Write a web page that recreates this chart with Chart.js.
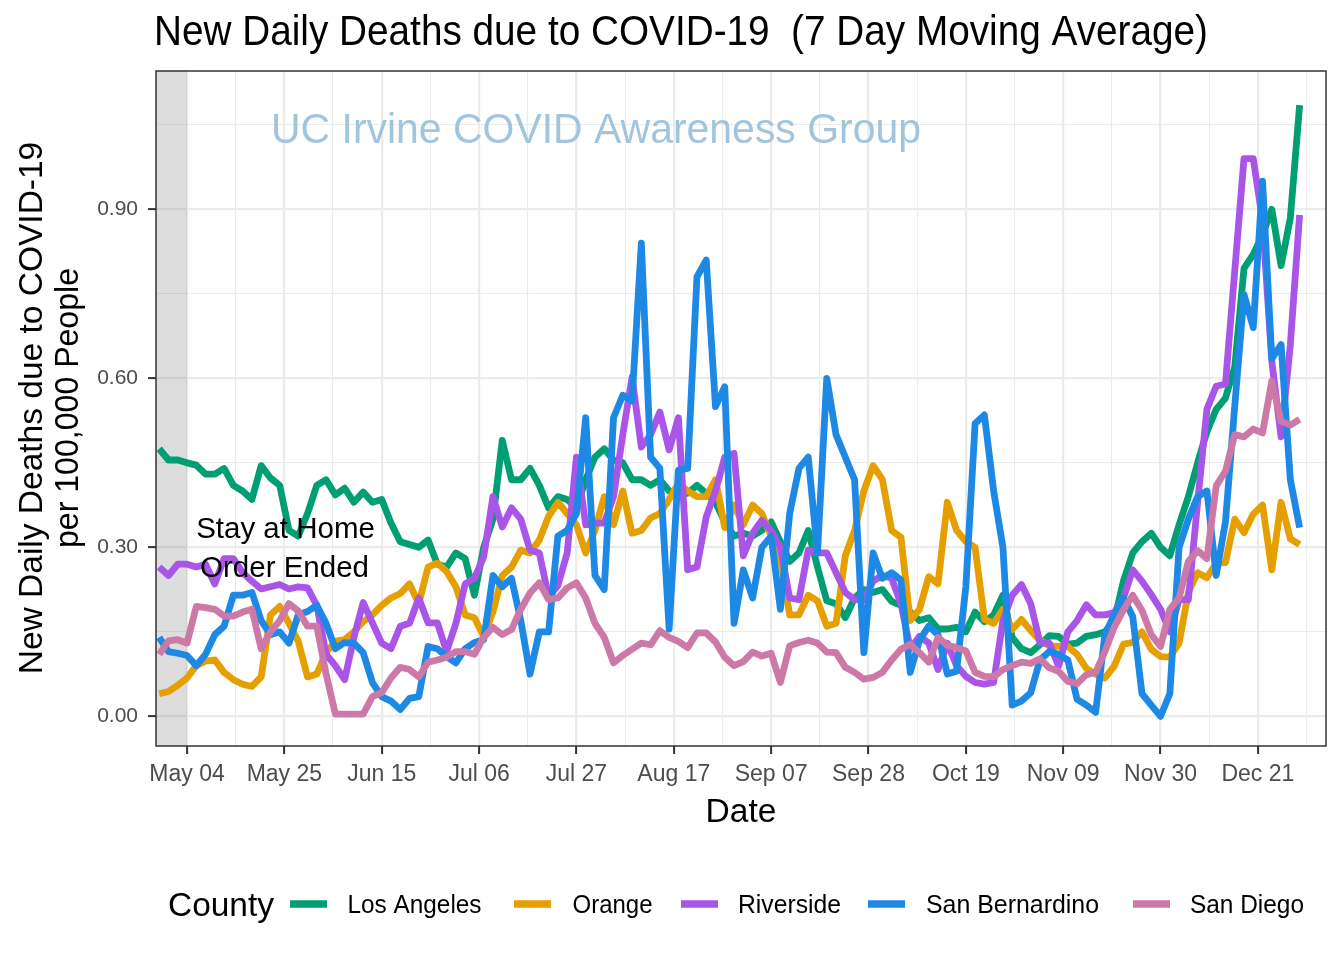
<!DOCTYPE html>
<html>
<head>
<meta charset="utf-8">
<script src="https://cdn.jsdelivr.net/npm/chart.js@4.4.1/dist/chart.umd.min.js"></script>
<style>
  html, body { margin: 0; padding: 0; background: #ffffff; }
  #wrap { position: relative; width: 1344px; height: 960px; }
  canvas { display: block; }
</style>
</head>
<body>
<div id="wrap"><canvas id="c" width="1344" height="960"></canvas></div>
<script>
// ---------------- DATA ----------------
// day offsets relative to May 04 (day 0)
const days = [
  -6, -4, -2, 0, 2, 4, 6, 8, 10, 12,
  14, 16, 18, 20, 22, 24, 26, 28, 30, 32,
  34, 36, 38, 40, 42, 44, 46, 48, 50, 52,
  54, 56, 58, 60, 62, 64, 66, 68, 70, 72,
  74, 76, 78, 80, 82, 84, 86, 88, 90, 92,
  94, 96, 98, 100, 102, 104, 106, 108, 110, 112,
  114, 116, 118, 120, 122, 124, 126, 128, 130, 132,
  134, 136, 138, 140, 142, 144, 146, 148, 150, 152,
  154, 156, 158, 160, 162, 164, 166, 168, 170, 172,
  174, 176, 178, 180, 182, 184, 186, 188, 190, 192,
  194, 196, 198, 200, 202, 204, 206, 208, 210, 212,
  214, 216, 218, 220, 222, 224, 226, 228, 230, 232,
  234, 236, 238, 240
];

const counties = ['Los Angeles', 'Orange', 'Riverside', 'San Bernardino', 'San Diego'];

const losAngeles = [
  0.475, 0.455, 0.455, 0.45, 0.446, 0.43, 0.43, 0.44, 0.41, 0.40,
  0.385, 0.445, 0.423, 0.41, 0.33, 0.32, 0.36, 0.41, 0.42, 0.393,
  0.405, 0.38, 0.398, 0.38, 0.385, 0.343, 0.31, 0.305, 0.30, 0.313,
  0.27, 0.265, 0.29, 0.28, 0.215, 0.30, 0.35, 0.49, 0.42, 0.42,
  0.44, 0.41, 0.37, 0.39, 0.385, 0.37, 0.42, 0.46, 0.475, 0.455,
  0.45, 0.42, 0.42, 0.41, 0.42, 0.40, 0.396, 0.396, 0.41, 0.396,
  0.38, 0.345, 0.32, 0.325, 0.32, 0.33, 0.345, 0.31, 0.275, 0.29,
  0.33, 0.265, 0.205, 0.20, 0.175, 0.21, 0.225, 0.22, 0.225, 0.204,
  0.197, 0.185, 0.17, 0.175, 0.155, 0.155, 0.158, 0.15, 0.185, 0.168,
  0.18, 0.215, 0.14, 0.12, 0.113, 0.127, 0.143, 0.142, 0.128, 0.13,
  0.142, 0.145, 0.15, 0.17, 0.24, 0.29, 0.31, 0.325, 0.30, 0.285,
  0.34, 0.39, 0.45, 0.505, 0.545, 0.565, 0.62, 0.795, 0.82, 0.855,
  0.90, 0.80, 0.885, 1.085
];

const orange = [
  0.04, 0.044, 0.055, 0.068, 0.09, 0.098, 0.10, 0.078, 0.065, 0.057,
  0.053, 0.07, 0.18, 0.195, 0.165, 0.133, 0.07, 0.075, 0.113, 0.133,
  0.136, 0.15, 0.168, 0.18, 0.197, 0.21, 0.218, 0.235, 0.20, 0.265,
  0.272, 0.257, 0.23, 0.18, 0.175, 0.142, 0.185, 0.25, 0.265, 0.295,
  0.29, 0.313, 0.355, 0.38, 0.36, 0.34, 0.29, 0.33, 0.39, 0.34,
  0.40, 0.325, 0.33, 0.352, 0.36, 0.385, 0.414, 0.40, 0.39, 0.39,
  0.42, 0.335, 0.375, 0.34, 0.375, 0.36, 0.32, 0.28, 0.18, 0.18,
  0.215, 0.205, 0.16, 0.165, 0.285, 0.33, 0.40, 0.445, 0.42, 0.33,
  0.318, 0.17, 0.19, 0.248, 0.235, 0.38, 0.33, 0.31, 0.30, 0.172,
  0.165, 0.19, 0.154, 0.172, 0.152, 0.135, 0.125, 0.124, 0.124, 0.11,
  0.085, 0.075, 0.068, 0.089, 0.128, 0.131, 0.15, 0.119, 0.106, 0.105,
  0.13, 0.22, 0.255, 0.246, 0.272, 0.273, 0.35, 0.326, 0.359, 0.375,
  0.26, 0.38, 0.315, 0.305
];

const riverside = [
  0.265, 0.25, 0.27, 0.27, 0.265, 0.27, 0.235, 0.28, 0.28, 0.255,
  0.24, 0.226, 0.23, 0.234, 0.226, 0.23, 0.228, 0.197, 0.11, 0.09,
  0.065, 0.14, 0.202, 0.166, 0.13, 0.12, 0.16, 0.165, 0.21, 0.166,
  0.166, 0.115, 0.165, 0.235, 0.245, 0.283, 0.39, 0.336, 0.37, 0.35,
  0.295, 0.29, 0.212, 0.232, 0.29, 0.46, 0.34, 0.343, 0.343, 0.39,
  0.50, 0.602, 0.478, 0.50, 0.54, 0.473, 0.53, 0.26, 0.265, 0.354,
  0.40, 0.46, 0.467, 0.285, 0.325, 0.348, 0.33, 0.30, 0.21, 0.207,
  0.295, 0.29, 0.29, 0.255, 0.22, 0.207, 0.207, 0.24, 0.25, 0.245,
  0.20, 0.12, 0.142, 0.13, 0.083, 0.13, 0.09, 0.071, 0.06, 0.057,
  0.06, 0.17, 0.215, 0.234, 0.20, 0.13, 0.13, 0.089, 0.15, 0.17,
  0.198, 0.18, 0.18, 0.184, 0.21, 0.26, 0.24, 0.216, 0.19, 0.15,
  0.207, 0.207, 0.38, 0.545, 0.586, 0.59, 0.79, 0.99, 0.99, 0.88,
  0.63, 0.496, 0.66, 0.89
];

const sanBernardino = [
  0.14, 0.115, 0.112, 0.108, 0.09, 0.11, 0.145, 0.16, 0.215, 0.215,
  0.22, 0.17, 0.145, 0.15, 0.13, 0.18, 0.186, 0.197, 0.165, 0.12,
  0.131, 0.13, 0.113, 0.06, 0.035, 0.027, 0.012, 0.032, 0.035, 0.124,
  0.12, 0.106, 0.095, 0.12, 0.131, 0.136, 0.25, 0.23, 0.245, 0.17,
  0.075, 0.15, 0.15, 0.32, 0.33, 0.36, 0.53, 0.25, 0.225, 0.53,
  0.57, 0.56, 0.84, 0.46, 0.44, 0.155, 0.437, 0.44, 0.78, 0.81,
  0.55, 0.585, 0.165, 0.26, 0.21, 0.30, 0.32, 0.19, 0.36, 0.44,
  0.46, 0.29, 0.60, 0.50, 0.46, 0.42, 0.113, 0.29, 0.245, 0.255,
  0.242, 0.078, 0.135, 0.16, 0.145, 0.075, 0.08, 0.23, 0.52, 0.535,
  0.40, 0.30, 0.02, 0.027, 0.042, 0.10, 0.115, 0.11, 0.10, 0.03,
  0.02, 0.007, 0.145, 0.18, 0.21, 0.177, 0.04, 0.02, 0.0, 0.04,
  0.30, 0.35, 0.39, 0.40, 0.25, 0.345, 0.55, 0.749, 0.69, 0.95,
  0.635, 0.66, 0.42, 0.335
];

const sanDiego = [
  0.11, 0.134, 0.136, 0.13, 0.195, 0.193, 0.19, 0.178, 0.178, 0.185,
  0.19, 0.12, 0.15, 0.17, 0.20, 0.187, 0.16, 0.16, 0.075, 0.004,
  0.004, 0.004, 0.004, 0.035, 0.042, 0.068, 0.087, 0.083, 0.07, 0.096,
  0.10, 0.105, 0.115, 0.115, 0.11, 0.14, 0.158, 0.145, 0.154, 0.19,
  0.219, 0.237, 0.207, 0.21, 0.228, 0.237, 0.21, 0.165, 0.14, 0.095,
  0.108, 0.119, 0.13, 0.127, 0.152, 0.14, 0.133, 0.122, 0.148, 0.148,
  0.132, 0.105, 0.09, 0.097, 0.114, 0.107, 0.112, 0.06, 0.125, 0.131,
  0.135, 0.13, 0.114, 0.113, 0.087, 0.078, 0.066, 0.069, 0.078, 0.10,
  0.119, 0.128, 0.113, 0.096, 0.14, 0.126, 0.122, 0.116, 0.078, 0.071,
  0.07, 0.083, 0.09, 0.096, 0.094, 0.102, 0.086, 0.08, 0.062, 0.058,
  0.074, 0.078, 0.115, 0.158, 0.189, 0.215, 0.188, 0.145, 0.124, 0.19,
  0.21, 0.275, 0.294, 0.28, 0.409, 0.435, 0.50, 0.496, 0.51, 0.503,
  0.595, 0.524, 0.517, 0.527
];

const xTickLabels = ['May 04', 'May 25', 'Jun 15', 'Jul 06', 'Jul 27', 'Aug 17',
                     'Sep 07', 'Sep 28', 'Oct 19', 'Nov 09', 'Nov 30', 'Dec 21'];
const yTickLabels = ['0.00', '0.30', '0.60', '0.90'];

const titleText = 'New Daily Deaths due to COVID-19  (7 Day Moving Average)';
const xTitle = 'Date';
const yTitleLines = ['New Daily Deaths due to COVID-19', 'per 100,000 People'];
const legendTitle = 'County';
const watermark = 'UC Irvine COVID Awareness Group';
const noteLines = ['Stay at Home', 'Order Ended'];

// ---------------- STYLE ----------------
const colors = ['#009E73', '#E69F00', '#A855E8', '#1E88E5', '#CC79A7'];
const FONT = "'Liberation Sans', Arial, Helvetica, sans-serif";
const seriesValues = [losAngeles, orange, riverside, sanBernardino, sanDiego];

// minor/major tick positions (major every 21 days, minor halfway)
const xTickValues = [];
for (let i = 0; i < xTickLabels.length * 2; i++) xTickValues.push(i * 10.5);
const yTickValues = [];
for (let i = 0; i < yTickLabels.length * 2; i++) yTickValues.push(i * 0.15);

const decor = {
  id: 'decor',
  beforeDatasetsDraw(chart) {
    const ctx = chart.ctx, a = chart.chartArea, xs = chart.scales.x;
    ctx.save();
    ctx.fillStyle = 'rgba(128,128,128,0.27)';
    ctx.fillRect(a.left, a.top, xs.getPixelForValue(0) - a.left, a.bottom - a.top);
    ctx.fillStyle = '#A2C5DE';
    ctx.font = '42px ' + FONT;
    ctx.textAlign = 'left';
    ctx.textBaseline = 'alphabetic';
    ctx.fillText(watermark, 271, 143, 650);
    ctx.restore();
  },
  afterDatasetsDraw(chart) {
    const ctx = chart.ctx, a = chart.chartArea;
    ctx.save();
    ctx.fillStyle = '#000000';
    ctx.font = '29.5px ' + FONT;
    ctx.textAlign = 'center';
    ctx.textBaseline = 'alphabetic';
    ctx.fillText(noteLines[0], 285.5, 538);
    ctx.fillText(noteLines[1], 284.5, 577);
    ctx.strokeStyle = '#333333';
    ctx.lineWidth = 1.5;
    ctx.strokeRect(a.left, a.top, a.right - a.left, a.bottom - a.top);
    ctx.restore();
  },
  afterDraw(chart) {
    const ctx = chart.ctx;
    ctx.save();
    ctx.fillStyle = '#000000';
    ctx.textBaseline = 'alphabetic';
    ctx.font = '42px ' + FONT;
    ctx.textAlign = 'left';
    ctx.fillText(titleText, 154, 45, 1054);
    ctx.font = '33.5px ' + FONT;
    ctx.textAlign = 'center';
    ctx.fillText(xTitle, 741, 822);
    ctx.save();
    ctx.translate(42, 408);
    ctx.rotate(-Math.PI / 2);
    ctx.fillText(yTitleLines[0], 0, 0, 535);
    ctx.restore();
    ctx.save();
    ctx.translate(78, 408);
    ctx.rotate(-Math.PI / 2);
    ctx.fillText(yTitleLines[1], 0, 0, 280);
    ctx.restore();
    ctx.textAlign = 'left';
    ctx.font = '33.5px ' + FONT;
    ctx.fillText(legendTitle, 168, 916, 106);
    const keyX = [290, 514, 681, 868, 1133];
    const textX = [347.5, 572.5, 738, 926, 1190];
    const textW = [134, 80, 103, 173, 114];
    ctx.font = '25px ' + FONT;
    counties.forEach((name, i) => {
      ctx.strokeStyle = colors[i];
      ctx.lineWidth = 7.5;
      ctx.lineCap = 'butt';
      ctx.beginPath();
      ctx.moveTo(keyX[i], 904);
      ctx.lineTo(keyX[i] + 37, 904);
      ctx.stroke();
      ctx.fillStyle = '#000000';
      ctx.fillText(name, textX[i], 913, textW[i]);
    });
    ctx.restore();
  }
};

const gridCfg = {
  color: '#EBEBEB',
  lineWidth: c => (c.index % 2 === 0 ? 2.2 : 1.1),
  tickLength: 8,
  tickWidth: 2,
  tickColor: c => (c.index % 2 === 0 ? '#333333' : 'rgba(0,0,0,0)'),
  drawTicks: true
};

new Chart(document.getElementById('c'), {
  type: 'line',
  data: {
    datasets: counties.map((name, i) => ({
      label: name,
      data: days.map((d, j) => ({ x: d, y: seriesValues[i][j] })),
      borderColor: colors[i],
      backgroundColor: colors[i],
      borderWidth: 6.8,
      pointRadius: 0,
      pointHoverRadius: 0,
      borderJoinStyle: 'round',
      borderCapStyle: 'butt',
      tension: 0,
      fill: false,
      order: counties.length - 1 - i
    }))
  },
  options: {
    responsive: false,
    devicePixelRatio: 1,
    animation: false,
    events: [],
    layout: { autoPadding: false, padding: { top: 71, right: 18, bottom: 0, left: 0 } },
    plugins: { legend: { display: false }, title: { display: false }, tooltip: { enabled: false } },
    scales: {
      x: {
        type: 'linear',
        min: -6.687,
        max: 245.69,
        afterBuildTicks: s => { s.ticks = xTickValues.map(v => ({ value: v })); },
        afterFit: s => { s.height = 214; },
        grid: gridCfg,
        border: { display: false },
        ticks: {
          autoSkip: false, maxRotation: 0, minRotation: 0, padding: 7,
          color: '#4D4D4D', font: { family: FONT, size: 23 },
          callback: (v, i) => (i % 2 === 0 ? xTickLabels[i / 2] : '')
        }
      },
      y: {
        type: 'linear',
        min: -0.0527,
        max: 1.1456,
        afterBuildTicks: s => { s.ticks = yTickValues.map(v => ({ value: v })); },
        afterFit: s => { s.width = 156; },
        grid: gridCfg,
        border: { display: false },
        ticks: {
          autoSkip: false, padding: 10,
          color: '#4D4D4D', font: { family: FONT, size: 21 },
          callback: (v, i) => (i % 2 === 0 ? yTickLabels[i / 2] : '')
        }
      }
    }
  },
  plugins: [decor]
});
</script>
</body>
</html>
